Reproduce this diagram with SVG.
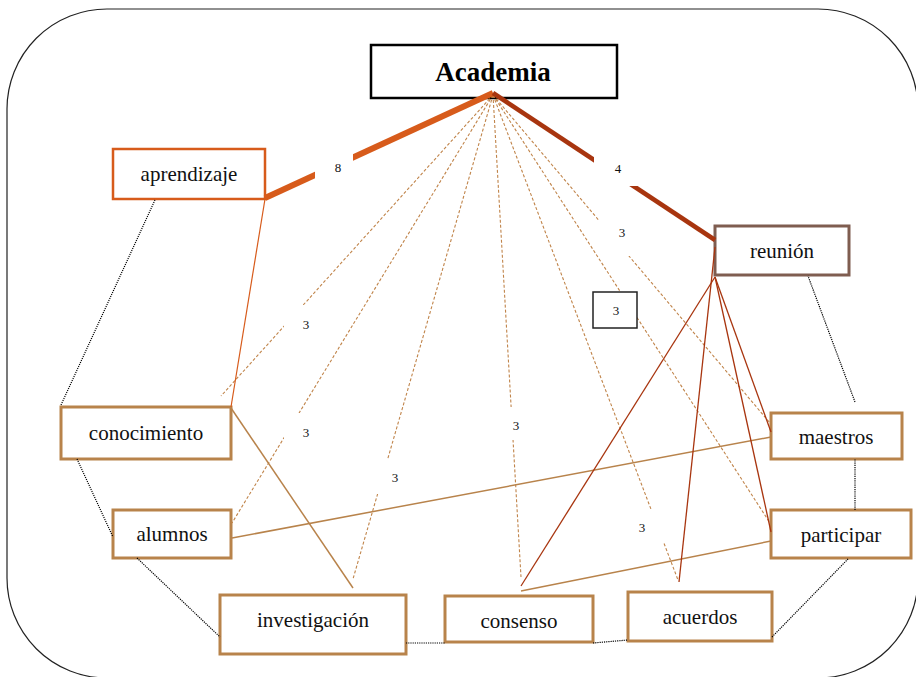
<svg xmlns="http://www.w3.org/2000/svg" width="916" height="677" viewBox="0 0 916 677">
<style>
.t{font-family:"Liberation Serif","Times New Roman",Times,"DejaVu Serif","Noto Serif",serif;font-size:21px;fill:#111;text-anchor:middle}
.lb{font-family:"Liberation Serif","Times New Roman",Times,"DejaVu Serif","Noto Serif",serif;font-size:13px;fill:#111;text-anchor:middle}
.hd{font-family:"Liberation Serif","Times New Roman",Times,"DejaVu Serif","Noto Serif",serif;font-size:27px;font-weight:bold;fill:#000;text-anchor:middle}
.box{fill:#fff;stroke:#B8834B;stroke-width:3}
.dash{stroke:#C0844A;stroke-width:1.1;stroke-dasharray:3,2;fill:none}
.dot{stroke:#000;stroke-width:1.2;stroke-dasharray:1.2,1;fill:none}
.tan{stroke:#B8834B;stroke-width:1.5;fill:none}
.red{stroke:#A8350F;stroke-width:1.3;fill:none}
.lbg{fill:#fff;stroke:none}
</style>
<rect x="0" y="0" width="916" height="677" fill="#fff"/>
<rect x="7" y="9" width="911" height="669" rx="100" ry="100" fill="none" stroke="#222" stroke-width="1.2"/>

<g id="node-academia"><rect x="371" y="45" width="246" height="53" fill="#fff" stroke="#000" stroke-width="2.5"/><text class="hd" x="493" y="81">Academia</text></g>
<g id="node-aprendizaje"><rect x="113" y="149" width="152" height="50" fill="#fff" stroke="#D75B1B" stroke-width="2.5"/><text class="t" x="189" y="181">aprendizaje</text></g>
<g id="node-reunion"><rect x="715" y="226" width="134" height="49" fill="#fff" stroke="#7F5D50" stroke-width="3"/><text class="t" x="782" y="258">reunión</text></g>
<g id="node-conocimiento"><rect class="box" x="61" y="407" width="170" height="52"/><text class="t" x="146" y="440">conocimiento</text></g>
<g id="node-alumnos"><rect class="box" x="113" y="510" width="118" height="48"/><text class="t" x="172" y="541">alumnos</text></g>
<g id="node-maestros"><rect class="box" x="771" y="413" width="131" height="46"/><text class="t" x="836" y="444">maestros</text></g>
<g id="node-participar"><rect class="box" x="771" y="510" width="140" height="48"/><text class="t" x="841" y="542">participar</text></g>
<g id="node-investigacion"><rect class="box" x="220" y="595" width="186" height="59"/><text class="t" x="313" y="627">investigación</text></g>
<g id="node-consenso"><rect class="box" x="445" y="596" width="148" height="46"/><text class="t" x="519" y="628">consenso</text></g>
<g id="node-acuerdos"><rect class="box" x="628" y="592" width="144" height="49"/><text class="t" x="700" y="624">acuerdos</text></g>

<g id="connectors">
<line class="dash" x1="493" y1="95" x2="221" y2="396"/>
<line class="dash" x1="493" y1="95" x2="232" y2="523"/>
<line class="dash" x1="493" y1="95" x2="353" y2="579"/>
<line class="dash" x1="493" y1="95" x2="521" y2="577"/>
<line class="dash" x1="493" y1="95" x2="678" y2="580"/>
<line class="dash" x1="493" y1="95" x2="770" y2="423"/>
<line class="dash" x1="493" y1="95" x2="770" y2="523"/>

<line x1="493" y1="93" x2="265" y2="198" stroke="#D75B1B" stroke-width="6"/>
<line x1="493" y1="93" x2="715" y2="240" stroke="#A8350F" stroke-width="4.5"/>

<line x1="265" y1="199" x2="231" y2="407" stroke="#D75B1B" stroke-width="1.2"/>
<line class="tan" x1="231" y1="408" x2="353" y2="588"/>
<line class="tan" x1="232" y1="538" x2="771" y2="437"/>
<line class="tan" x1="521" y1="591" x2="771" y2="541"/>

<line class="red" x1="715" y1="277" x2="521" y2="586"/>
<line class="red" x1="715" y1="247" x2="679" y2="582"/>
<line class="red" x1="715" y1="277" x2="771" y2="432"/>
<line class="red" x1="715" y1="277" x2="771" y2="532"/>

<line class="dot" x1="155" y1="200" x2="61" y2="405"/>
<line class="dot" x1="77" y1="459" x2="113" y2="537"/>
<line class="dot" x1="137" y1="558" x2="220" y2="637"/>
<line class="dot" x1="406" y1="643" x2="445" y2="643"/>
<line class="dot" x1="593" y1="643" x2="628" y2="640"/>
<line class="dot" x1="772" y1="637" x2="848" y2="559"/>
<line class="dot" x1="855" y1="510" x2="855" y2="459"/>
<line class="dot" x1="855" y1="402" x2="808" y2="276"/>

<rect class="lbg" x="315" y="148" width="38" height="38"/><text class="lb" x="338" y="172">8</text>
<rect class="lbg" x="594" y="150" width="44" height="36"/><text class="lb" x="618" y="173">4</text>
<rect class="lbg" x="599" y="220" width="44" height="36"/><text class="lb" x="622" y="237">3</text>
<rect x="593" y="292" width="44" height="36" fill="#fff" stroke="#222" stroke-width="1.5"/><text class="lb" x="616" y="315">3</text>
<rect class="lbg" x="284" y="305" width="44" height="38"/><text class="lb" x="306" y="329">3</text>
<rect class="lbg" x="284" y="413" width="44" height="38"/><text class="lb" x="306" y="437">3</text>
<rect class="lbg" x="374" y="459" width="44" height="35"/><text class="lb" x="395" y="482">3</text>
<rect class="lbg" x="494" y="407" width="44" height="33"/><text class="lb" x="516" y="430">3</text>
<rect class="lbg" x="620" y="509" width="44" height="34"/><text class="lb" x="642" y="532">3</text>
</g>
</svg>
